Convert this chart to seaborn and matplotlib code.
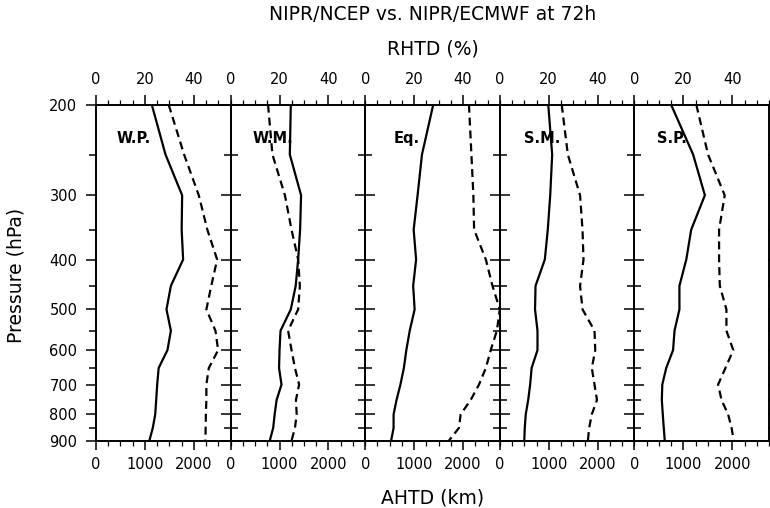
import numpy as np
import matplotlib.pyplot as plt
import matplotlib.ticker as mticker
import seaborn as sns

# pressure levels (hPa)
levels = [200, 250, 300, 350, 400, 450, 500, 550, 600, 650, 700, 750, 800, 850, 900]

regions = ['W.P.', 'W.M.', 'Eq.', 'S.M.', 'S.P.']

# AHTD (km), solid lines
ahtd_wp = [1140, 1420, 1760, 1750, 1780, 1530, 1440, 1530, 1460, 1280, 1250, 1230, 1210, 1160, 1090]
ahtd_wm = [1230, 1210, 1440, 1420, 1380, 1330, 1230, 1020, 1000, 990, 1040, 940, 900, 870, 800]
ahtd_eq = [1390, 1160, 1070, 990, 1040, 980, 1010, 910, 840, 790, 720, 640, 580, 580, 530]
ahtd_sm = [990, 1070, 1030, 980, 920, 730, 720, 770, 770, 650, 620, 580, 530, 510, 500]
ahtd_sp = [750, 1200, 1440, 1160, 1060, 920, 920, 820, 790, 650, 570, 560, 580, 600, 620]

# RHTD (%), dashed lines
rhtd_wp = [29.7, 36.0, 42.0, 45.5, 49.5, 47.1, 45.1, 48.8, 49.9, 46.1, 45.1, 45.1, 44.9, 44.8, 44.7]
rhtd_wm = [15.3, 17.1, 22.2, 24.9, 27.6, 28.3, 27.6, 23.5, 24.9, 26.3, 28.0, 26.7, 27.0, 26.3, 24.9]
rhtd_eq = [42.4, 43.4, 44.2, 44.5, 49.3, 52.0, 55.0, 53.8, 51.3, 49.3, 46.5, 43.1, 39.0, 38.3, 34.2]
rhtd_sm = [25.3, 27.8, 32.8, 33.8, 34.2, 32.8, 33.8, 38.7, 39.0, 37.6, 38.7, 39.7, 37.6, 36.5, 36.0]
rhtd_sp = [25.3, 30.1, 36.9, 34.6, 34.6, 34.9, 37.6, 37.6, 40.4, 37.2, 34.2, 35.6, 38.3, 39.7, 40.6]

label_x = [0.15, 0.16, 0.21, 0.18, 0.17]

sns.set_style('ticks')
plt.rcParams['font.family'] = ['DejaVu Sans']
plt.rcParams.update({'text.color': 'black', 'axes.labelcolor': 'black',
                     'xtick.color': 'black', 'ytick.color': 'black',
                     'axes.edgecolor': 'black'})

ahtd_all = [ahtd_wp, ahtd_wm, ahtd_eq, ahtd_sm, ahtd_sp]
rhtd_all = [rhtd_wp, rhtd_wm, rhtd_eq, rhtd_sm, rhtd_sp]

fig, axes = plt.subplots(1, 5, figsize=(7.7, 5.08), dpi=100, sharey=True)
fig.subplots_adjust(left=96 / 770, right=769 / 770, top=1 - 104.7 / 508,
                    bottom=1 - 440.7 / 508, wspace=0)

axes[0].set_yscale('log')

for i, ax in enumerate(axes):
    ax.set_facecolor('none')
    sns.lineplot(x=ahtd_all[i], y=levels, sort=False, estimator=None,
                 color='black', lw=1.6, ax=ax)
    ax.set_xlim(0, 2750)
    ax.set_ylim(900, 200)
    ax.set_xticks([0, 1000, 2000])
    ax.set_xticks(np.arange(0, 2751, 250), minor=True)
    ax.set_xlabel('')
    ax.set_ylabel('')

    top = ax.twiny()
    sns.lineplot(x=rhtd_all[i], y=levels, sort=False, estimator=None,
                 color='black', lw=1.6, ax=top, dashes=False)
    top.lines[0].set_dashes((3.6, 2.2))
    top.set_xlim(0, 55)
    top.set_xticks([0, 20, 40])
    top.set_xticks(np.arange(0, 56, 5), minor=True)
    top.set_xlabel('')
    top.tick_params(axis='x', which='major', length=7, width=1.1, labelsize=10.5, pad=5.5)
    top.tick_params(axis='x', which='minor', length=3.8, width=0.9)

    ax.tick_params(axis='x', which='major', length=6.5, width=1.1, labelsize=10.5, pad=5)
    ax.tick_params(axis='x', which='minor', length=3.6, width=0.9)
    ax.tick_params(axis='y', which='both', left=True, right=True, direction='out',
                   labelright=False, labelsize=10.5, width=1.1)
    ax.tick_params(axis='y', which='major', length=7.4, pad=6)
    ax.tick_params(axis='y', which='minor', length=4.8)

    for s in list(ax.spines.values()) + list(top.spines.values()):
        s.set_linewidth(1.2)

    ax.text(label_x[i], 0.9, regions[i], transform=ax.transAxes,
            fontsize=10.5, fontweight='bold', va='center', ha='left')

ax0 = axes[0]
ax0.set_yticks(list(range(200, 901, 100)))
ax0.set_yticks(list(range(250, 900, 100)), minor=True)
ax0.yaxis.set_major_formatter(mticker.FuncFormatter(lambda v, p: '%d' % v))
ax0.yaxis.set_minor_formatter(mticker.NullFormatter())
ax0.set_ylim(900, 200)

fig.text(432.5 / 770, 1 - 15 / 508, 'NIPR/NCEP vs. NIPR/ECMWF at 72h',
         ha='center', va='center', fontsize=13.5)
fig.text(432.5 / 770, 1 - 49 / 508, 'RHTD (%)', ha='center', va='center', fontsize=13.5)
fig.text(432.5 / 770, 1 - 498 / 508, 'AHTD (km)', ha='center', va='center', fontsize=13.5)
fig.text(16 / 770, 1 - 275 / 508, 'Pressure (hPa)', ha='center', va='center',
         rotation=90, fontsize=13.5)

plt.savefig('out.png', dpi=100)
